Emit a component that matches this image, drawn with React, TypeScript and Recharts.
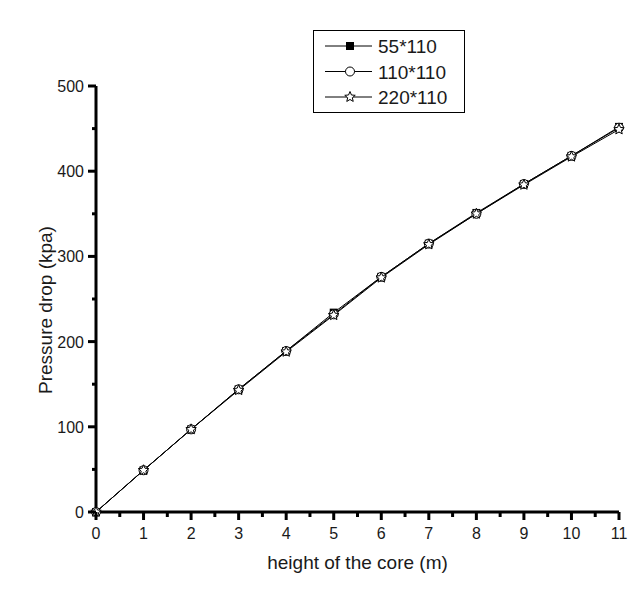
import { Legend, Line, LineChart, XAxis, YAxis } from "recharts";

const heights = [0, 1, 2, 3, 4, 5, 6, 7, 8, 9, 10, 11];
const drop55 = [0, 49, 97, 144, 189, 234, 276, 315, 351, 385, 418, 452];
const drop110 = [0, 49, 97, 144, 189, 232, 276, 315, 350, 385, 418, 451];
const drop220 = [0, 49, 97, 143, 188, 231, 275, 314, 350, 384, 417, 449];
const xTicks = [0, 0.5, 1, 1.5, 2, 2.5, 3, 3.5, 4, 4.5, 5, 5.5, 6, 6.5, 7, 7.5, 8, 8.5, 9, 9.5, 10, 10.5, 11];
const yTicks = [0, 50, 100, 150, 200, 250, 300, 350, 400, 450, 500];
const seriesNames = ["55*110", "110*110", "220*110"];

const data = heights.map((h, i) => ({ h, a: drop55[i], b: drop110[i], c: drop220[i] }));

const FONT = "Arimo, 'Liberation Sans', Arial, sans-serif";
const TEXT = "#1a1a1a";

function starPath(cx: number, cy: number, r: number) {
  const pts: string[] = [];
  for (let i = 0; i < 10; i++) {
    const rad = i % 2 === 0 ? r : r * 0.45;
    const a = -Math.PI / 2 + (i * Math.PI) / 5;
    pts.push(`${cx + rad * Math.cos(a)},${cy + rad * Math.sin(a)}`);
  }
  return "M" + pts.join("L") + "Z";
}

function Marker({ kind, cx, cy }: { kind: number; cx: number; cy: number }) {
  if (kind === 0) return <rect x={cx - 4} y={cy - 4} width={8} height={8} fill="#000" />;
  if (kind === 1) return <circle cx={cx} cy={cy} r={4.5} fill="#fff" stroke="#000" strokeWidth={1} />;
  return <path d={starPath(cx, cy, 5.5)} fill="#fff" stroke="#000" strokeWidth={1} />;
}

const dot = (kind: number) => (p: any) => <Marker key={`${kind}-${p.index}`} kind={kind} cx={p.cx} cy={p.cy} />;

function XTick({ x, y, payload }: any) {
  const major = Number.isInteger(payload.value);
  return (
    <g>
      <line x1={x} y1={y} x2={x} y2={y + (major ? 8 : 5)} stroke="#000" strokeWidth={3} />
      {major && (
        <text x={x} y={y + 27} textAnchor="middle" fontSize={16} fill={TEXT} fontFamily={FONT}>
          {payload.value}
        </text>
      )}
    </g>
  );
}

function YTick({ x, y, payload }: any) {
  const major = payload.value % 100 === 0;
  return (
    <g>
      <line x1={x} y1={y} x2={x - (major ? 8 : 4)} y2={y} stroke="#000" strokeWidth={3} />
      {major && (
        <text x={x - 12} y={y + 6} textAnchor="end" fontSize={16} fill={TEXT} fontFamily={FONT}>
          {payload.value}
        </text>
      )}
    </g>
  );
}

function YTitle({ viewBox }: any) {
  const cx = viewBox.x + 52;
  const cy = viewBox.y + viewBox.height / 2 + 11;
  return (
    <text transform={`translate(${cx},${cy}) rotate(-90)`} textAnchor="middle" fontSize={19} fill={TEXT} fontFamily={FONT}>
      Pressure drop (kpa)
    </text>
  );
}

function LegendBox() {
  return (
    <svg width={152} height={83} style={{ display: "block" }}>
      <rect x={0.5} y={0.5} width={151} height={82} fill="#fff" stroke="#000" />
      {seriesNames.map((name, i) => {
        const cy = 16 + i * 25.5;
        return (
          <g key={name}>
            <line x1={12} y1={cy} x2={59} y2={cy} stroke="#000" strokeWidth={1} />
            <Marker kind={i} cx={37} cy={cy} />
            <text x={65} y={cy + 7} fontSize={19} fill={TEXT} fontFamily={FONT}>
              {name}
            </text>
          </g>
        );
      })}
    </svg>
  );
}

export default function App() {
  return (
    <div style={{ position: "absolute", left: 0, top: 0, background: "#fff" }}>
      <LineChart width={640} height={601} data={data} margin={{ top: 86, right: 21, bottom: 29, left: 0 }}>
        <XAxis
          dataKey="h"
          type="number"
          domain={[0, 11]}
          ticks={xTicks}
          interval={0}
          height={60}
          tickSize={0}
          tickMargin={0}
          tick={<XTick />}
          stroke="#000"
          axisLine={{ stroke: "#000", strokeWidth: 3 }}
          label={{ value: "height of the core (m)", position: "insideBottom", offset: 3, fontSize: 19, fill: TEXT, fontFamily: FONT }}
        />
        <YAxis
          type="number"
          domain={[0, 500]}
          ticks={yTicks}
          interval={0}
          width={96}
          tickSize={0}
          tickMargin={0}
          tick={<YTick />}
          stroke="#000"
          axisLine={{ stroke: "#000", strokeWidth: 3 }}
          label={<YTitle />}
        />
        <Line dataKey="a" name={seriesNames[0]} stroke="#000" strokeWidth={1} dot={dot(0)} isAnimationActive={false} />
        <Line dataKey="b" name={seriesNames[1]} stroke="#000" strokeWidth={1} dot={dot(1)} isAnimationActive={false} />
        <Line dataKey="c" name={seriesNames[2]} stroke="#000" strokeWidth={1} dot={dot(2)} isAnimationActive={false} />
        <Legend
          layout="horizontal"
          verticalAlign="middle"
          align="center"
          content={() => <LegendBox />}
          wrapperStyle={{ top: 30, left: 313, width: 152, height: 83 }}
        />
      </LineChart>
    </div>
  );
}
